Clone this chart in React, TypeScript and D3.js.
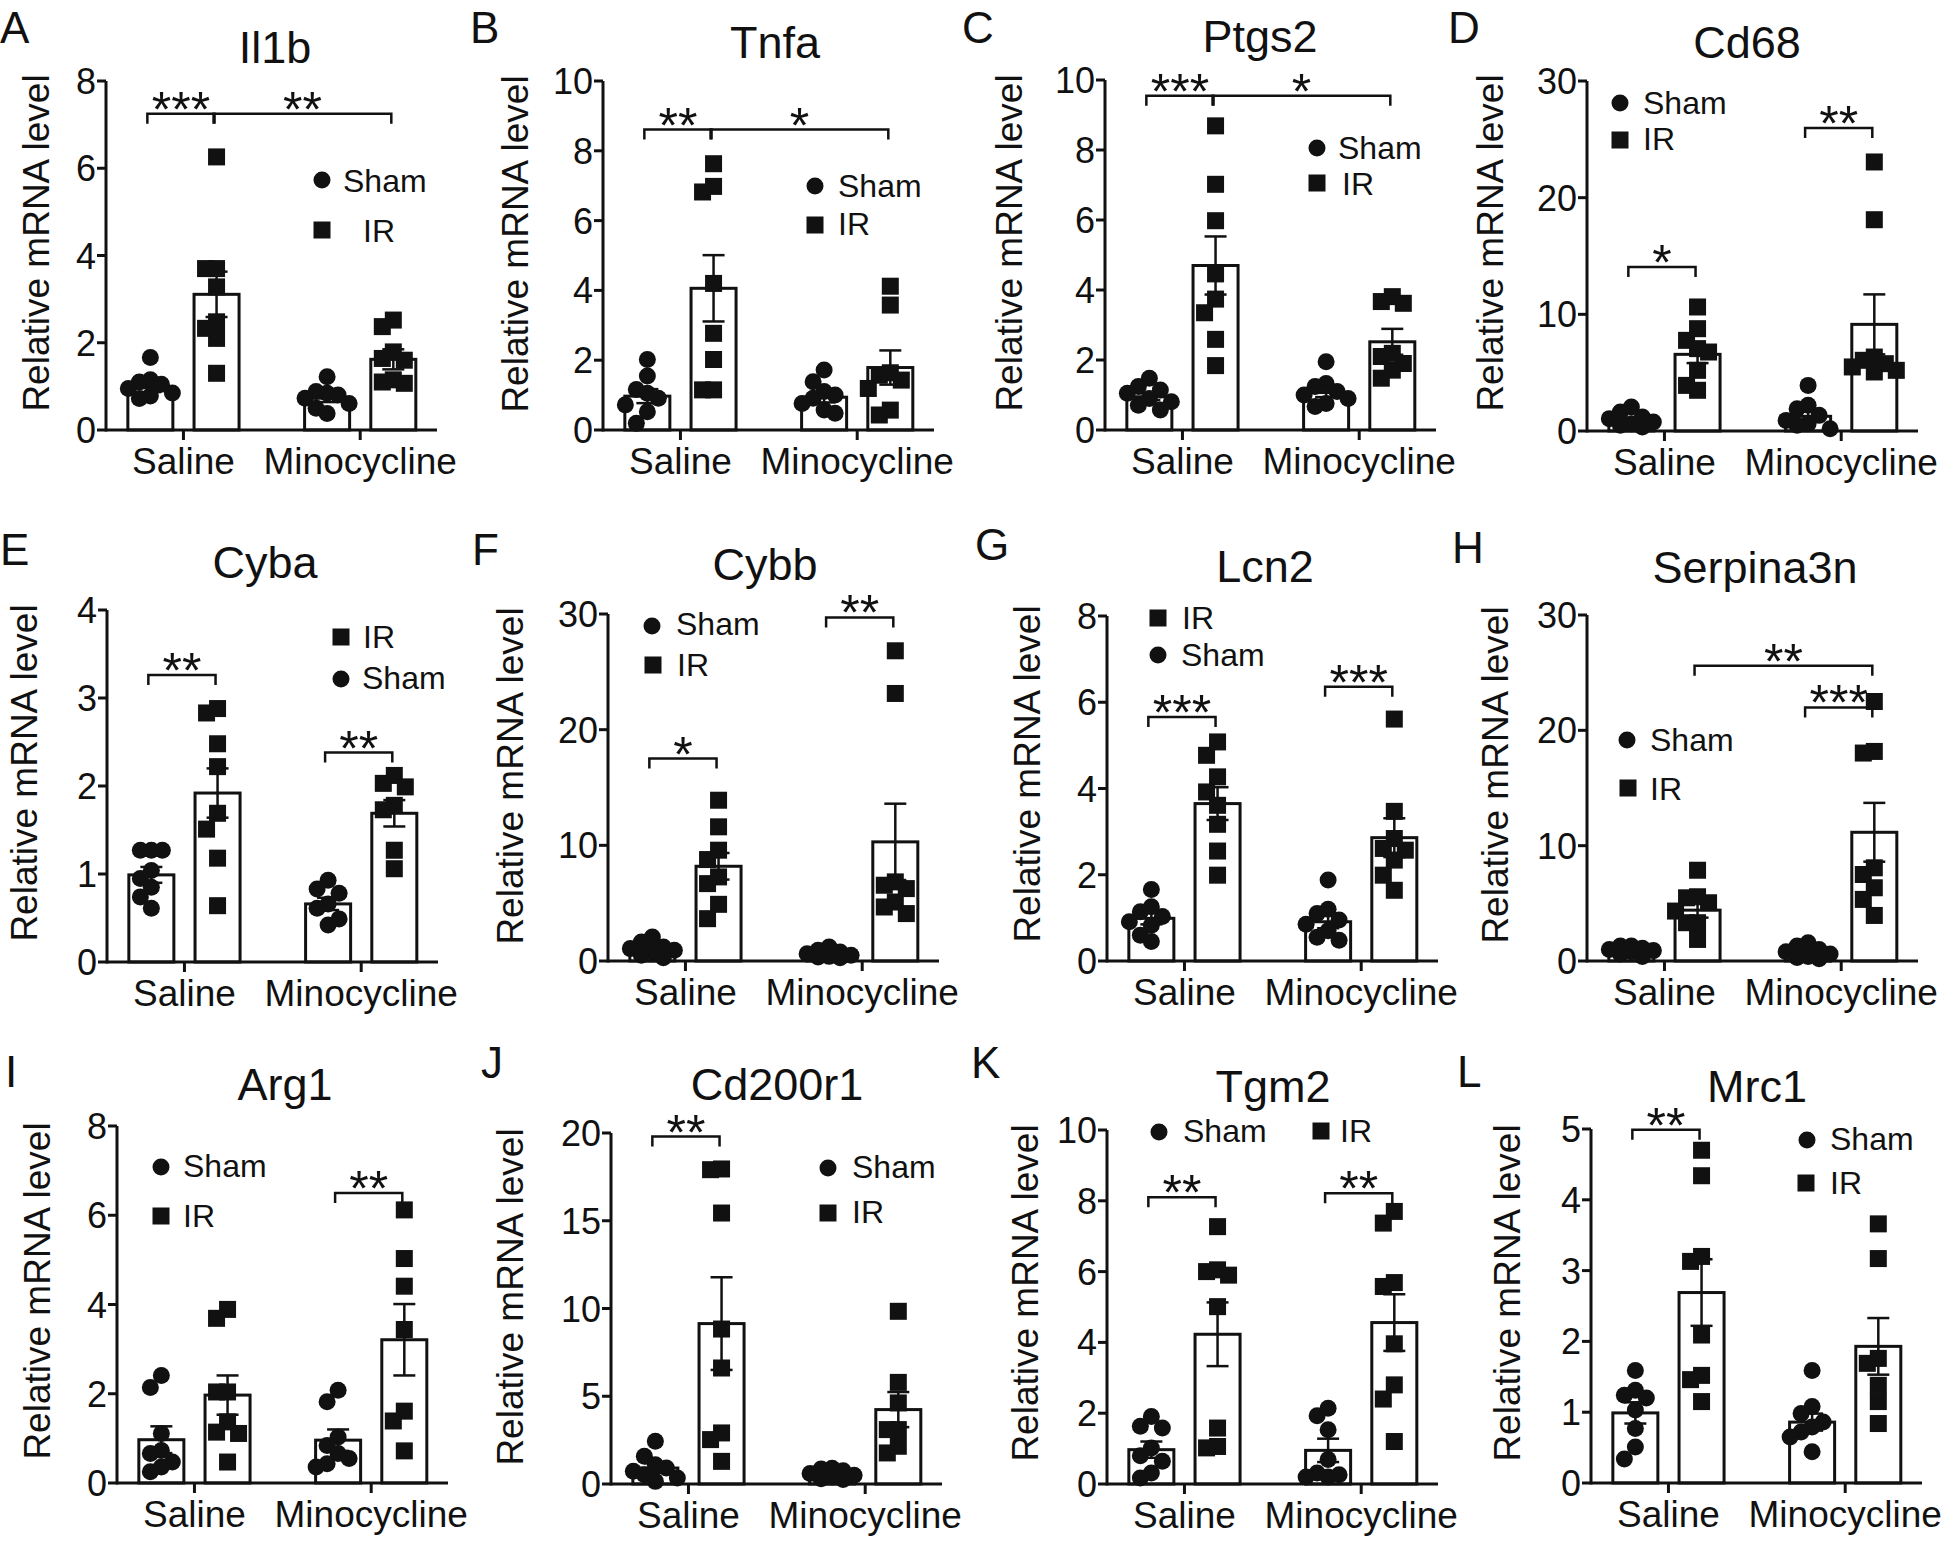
import React from 'react';
import * as d3 from 'd3';

const FONT = '"Liberation Sans", Arial, Helvetica, sans-serif';
const INK = '#111';

const groupLabels = ['Saline', 'Minocycline'];
const seriesLabels = ['Sham', 'IR'];
const yAxisLabel = 'Relative mRNA level';

// Bar order in every panel: Sham/Saline, IR/Saline, Sham/Minocycline, IR/Minocycline
const il1bPoints = [
  [1.66, 1.15, 1.1, 1.05, 0.95, 0.85, 0.78, 0.72],
  [6.26, 3.7, 3.7, 3.28, 2.48, 2.33, 2.1, 1.3],
  [1.22, 0.88, 0.84, 0.8, 0.73, 0.61, 0.5, 0.38],
  [2.52, 2.37, 1.79, 1.64, 1.6, 1.15, 1.1, 1.07],
];
const il1bMean = [0.97, 3.11, 0.73, 1.62];
const il1bSem = [0.1, 0.52, 0.09, 0.23];
const il1bSig = [
  { a: 0, b: 1, y: 7.25, label: '***' },
  { a: 1, b: 3, y: 7.25, label: '**' },
];

const tnfaPoints = [
  [2.02, 1.55, 1.16, 1.05, 0.91, 0.72, 0.52, 0.19],
  [7.63, 6.98, 6.82, 4.2, 2.77, 2.02, 1.15, 1.15],
  [1.72, 1.38, 1.1, 1.0, 0.91, 0.76, 0.57, 0.48],
  [4.12, 3.58, 1.64, 1.57, 1.43, 1.19, 0.57, 0.43],
];
const tnfaMean = [0.97, 4.06, 0.94, 1.79];
const tnfaSem = [0.2, 0.95, 0.15, 0.49];
const tnfaSig = [
  { a: 0, b: 1, y: 8.61, label: '**' },
  { a: 1, b: 3, y: 8.61, label: '*' },
];

const ptgs2Points = [
  [1.48, 1.24, 1.14, 1.05, 0.9, 0.81, 0.71, 0.57],
  [8.69, 7.02, 5.98, 4.46, 3.74, 3.35, 2.59, 1.84],
  [1.95, 1.33, 1.24, 1.1, 1.0, 0.9, 0.76, 0.67],
  [3.81, 3.67, 3.62, 2.19, 2.1, 1.9, 1.71, 1.48],
];
const ptgs2Mean = [0.95, 4.7, 1.07, 2.52];
const ptgs2Sem = [0.1, 0.83, 0.13, 0.37];
const ptgs2Sig = [
  { a: 0, b: 1, y: 9.55, label: '***' },
  { a: 1, b: 3, y: 9.55, label: '*' },
];

const cd68Points = [
  [2.06, 1.63, 1.2, 1.06, 0.77, 0.63, 0.49, 0.34],
  [10.63, 8.77, 7.77, 7.06, 6.77, 5.2, 3.91, 3.49],
  [3.91, 2.2, 1.91, 1.34, 0.91, 0.63, 0.49, 0.2],
  [23.06, 18.11, 6.34, 6.06, 5.77, 5.49, 5.2, 5.06],
];
const cd68Mean = [0.85, 6.57, 1.26, 9.14];
const cd68Sem = [0.2, 0.75, 0.4, 2.57];
const cd68Sig = [
  { a: 0, b: 1, y: 14.06, label: '*' },
  { a: 2, b: 3, y: 25.97, label: '**' },
];

const cybaPoints = [
  [1.27, 1.27, 1.27, 1.04, 0.95, 0.85, 0.74, 0.61],
  [2.88, 2.83, 2.48, 2.22, 1.69, 1.51, 1.18, 0.64],
  [0.93, 0.83, 0.78, 0.66, 0.61, 0.49, 0.42],
  [2.12, 2.03, 1.99, 1.78, 1.73, 1.27, 1.06],
];
const cybaMean = [0.99, 1.92, 0.66, 1.69];
const cybaSem = [0.09, 0.28, 0.07, 0.15];
const cybaSig = [
  { a: 0, b: 1, y: 3.26, label: '**' },
  { a: 2, b: 3, y: 2.38, label: '**' },
];

const cybbPoints = [
  [2.08, 1.64, 1.21, 1.07, 0.92, 0.78, 0.49, 0.29],
  [13.9, 11.6, 9.58, 8.77, 7.27, 6.69, 4.9, 3.66],
  [1.21, 0.92, 0.78, 0.63, 0.49, 0.4, 0.35, 0.29],
  [26.82, 23.13, 6.84, 6.55, 6.26, 5.1, 4.67, 4.1],
];
const cybbMean = [0.92, 8.19, 0.58, 10.3];
const cybbSem = [0.22, 1.15, 0.12, 3.3];
const cybbSig = [
  { a: 0, b: 1, y: 17.5, label: '*' },
  { a: 2, b: 3, y: 29.7, label: '**' },
];

const lcn2Points = [
  [1.66, 1.26, 1.14, 1.03, 0.91, 0.83, 0.6, 0.45],
  [5.08, 4.77, 4.27, 3.92, 3.61, 3.17, 2.55, 1.99],
  [1.88, 1.2, 1.1, 0.95, 0.85, 0.7, 0.55, 0.48],
  [5.61, 3.47, 2.84, 2.61, 2.57, 2.34, 1.99, 1.64],
];
const lcn2Mean = [0.99, 3.65, 0.91, 2.86];
const lcn2Sem = [0.14, 0.38, 0.15, 0.45];
const lcn2Sig = [
  { a: 0, b: 1, y: 5.66, label: '***' },
  { a: 2, b: 3, y: 6.36, label: '***' },
];

const serpina3nPoints = [
  [1.3, 1.3, 1.1, 1.0, 0.9, 0.8, 0.6, 0.4],
  [7.87, 5.57, 5.48, 5.05, 4.33, 3.32, 3.32, 1.87],
  [1.59, 1.3, 1.0, 0.8, 0.6, 0.4, 0.3, 0.2],
  [22.5, 18.17, 18.03, 8.08, 7.5, 6.35, 5.34, 3.95],
];
const serpina3nMean = [0.87, 4.41, 0.72, 11.16];
const serpina3nSem = [0.12, 0.65, 0.17, 2.55];
const serpina3nSig = [
  { a: 1, b: 3, y: 25.6, label: '**' },
  { a: 2, b: 3, y: 21.98, label: '***' },
];

const arg1Points = [
  [2.41, 2.14, 1.11, 0.73, 0.66, 0.47, 0.36, 0.25],
  [3.89, 3.69, 2.04, 2.04, 1.37, 1.14, 1.11, 0.47],
  [2.08, 1.82, 1.03, 0.84, 0.66, 0.55, 0.43, 0.36],
  [6.12, 5.03, 4.41, 3.44, 1.61, 1.39, 0.72],
];
const arg1Mean = [0.97, 1.97, 0.96, 3.21];
const arg1Sem = [0.3, 0.44, 0.24, 0.8];
const arg1Sig = [{ a: 2, b: 3, y: 6.5, label: '**' }];

const cd200r1Points = [
  [2.43, 1.58, 1.1, 0.91, 0.72, 0.53, 0.34, 0.15],
  [17.95, 17.91, 15.44, 8.83, 6.61, 2.91, 2.53, 1.29],
  [0.9, 0.85, 0.75, 0.6, 0.5, 0.4, 0.3, 0.25],
  [9.84, 5.79, 4.62, 3.1, 3.1, 2.15, 1.77],
];
const cd200r1Mean = [0.91, 9.14, 0.57, 4.24];
const cd200r1Sem = [0.27, 2.64, 0.09, 1.0];
const cd200r1Sig = [{ a: 0, b: 1, y: 19.8, label: '**' }];

const tgm2Points = [
  [1.91, 1.63, 1.58, 1.02, 0.8, 0.64, 0.31, 0.17],
  [7.27, 6.05, 6.0, 5.9, 5.01, 1.58, 1.06, 1.02],
  [2.14, 1.93, 1.53, 0.69, 0.31, 0.26, 0.2, 0.2],
  [7.7, 7.37, 5.69, 5.58, 3.96, 2.8, 2.4, 1.2],
];
const tgm2Mean = [0.97, 4.23, 0.95, 4.56];
const tgm2Sem = [0.23, 0.9, 0.33, 0.8];
const tgm2Sig = [
  { a: 0, b: 1, y: 8.1, label: '**' },
  { a: 2, b: 3, y: 8.21, label: '**' },
];

const mrc1Points = [
  [1.59, 1.31, 1.24, 1.2, 1.03, 0.77, 0.51, 0.34],
  [4.7, 4.34, 3.2, 3.13, 2.09, 1.52, 1.46, 1.15],
  [1.59, 1.08, 0.98, 0.86, 0.79, 0.72, 0.65, 0.44],
  [3.66, 3.17, 1.76, 1.69, 1.38, 1.15, 0.84],
];
const mrc1Mean = [0.99, 2.69, 0.86, 1.93];
const mrc1Sem = [0.15, 0.47, 0.12, 0.4];
const mrc1Sig = [{ a: 0, b: 1, y: 4.99, label: '**' }];

// ---------- layout (pixels) ----------
const AXIS_W = 331;
const GROUP_POS = [1.17, 3.84]; // x-domain units (domain 0..5)
const BAR_W = 0.68;

type Leg = { s: number; mx: number; my: number; tx: number; ty: number };
type PanelCfg = {
  letter: string; gene: string;
  points: number[][]; mean: number[]; sem: number[]; sig: { a: number; b: number; y: number; label: string }[];
  yMax: number; yStep: number;
  ax: number; yTop: number; y0: number;
  letterPos: [number, number]; titlePos: [number, number]; ylabPos: [number, number];
  legend: Leg[];
};

const panels: PanelCfg[] = [
  { letter: 'A', gene: 'Il1b', points: il1bPoints, mean: il1bMean, sem: il1bSem, sig: il1bSig, yMax: 8, yStep: 2,
    ax: 106, yTop: 81, y0: 430, letterPos: [0, 43], titlePos: [275, 63], ylabPos: [49, 243],
    legend: [{ s: 0, mx: 322, my: 180, tx: 343, ty: 192 }, { s: 1, mx: 322, my: 230, tx: 363, ty: 242 }] },
  { letter: 'B', gene: 'Tnfa', points: tnfaPoints, mean: tnfaMean, sem: tnfaSem, sig: tnfaSig, yMax: 10, yStep: 2,
    ax: 603, yTop: 81, y0: 430, letterPos: [470, 43], titlePos: [775, 58], ylabPos: [528, 244],
    legend: [{ s: 0, mx: 815, my: 186, tx: 838, ty: 197 }, { s: 1, mx: 815, my: 225, tx: 838, ty: 235 }] },
  { letter: 'C', gene: 'Ptgs2', points: ptgs2Points, mean: ptgs2Mean, sem: ptgs2Sem, sig: ptgs2Sig, yMax: 10, yStep: 2,
    ax: 1105, yTop: 80, y0: 430, letterPos: [962, 43], titlePos: [1260, 52], ylabPos: [1022, 243],
    legend: [{ s: 0, mx: 1317, my: 148, tx: 1338, ty: 159 }, { s: 1, mx: 1317, my: 183, tx: 1342, ty: 195 }] },
  { letter: 'D', gene: 'Cd68', points: cd68Points, mean: cd68Mean, sem: cd68Sem, sig: cd68Sig, yMax: 30, yStep: 10,
    ax: 1587, yTop: 81, y0: 431, letterPos: [1448, 43], titlePos: [1747, 58], ylabPos: [1503, 243],
    legend: [{ s: 0, mx: 1620, my: 103, tx: 1643, ty: 114 }, { s: 1, mx: 1620, my: 140, tx: 1643, ty: 150 }] },
  { letter: 'E', gene: 'Cyba', points: cybaPoints, mean: cybaMean, sem: cybaSem, sig: cybaSig, yMax: 4, yStep: 1,
    ax: 107, yTop: 610, y0: 962, letterPos: [0, 565], titlePos: [265, 578], ylabPos: [37, 773],
    legend: [{ s: 1, mx: 341, my: 637, tx: 363, ty: 648 }, { s: 0, mx: 341, my: 679, tx: 362, ty: 689 }] },
  { letter: 'F', gene: 'Cybb', points: cybbPoints, mean: cybbMean, sem: cybbSem, sig: cybbSig, yMax: 30, yStep: 10,
    ax: 608, yTop: 614, y0: 961, letterPos: [472, 565], titlePos: [765, 580], ylabPos: [523, 776],
    legend: [{ s: 0, mx: 652, my: 626, tx: 676, ty: 635 }, { s: 1, mx: 653, my: 665, tx: 677, ty: 676 }] },
  { letter: 'G', gene: 'Lcn2', points: lcn2Points, mean: lcn2Mean, sem: lcn2Sem, sig: lcn2Sig, yMax: 8, yStep: 2,
    ax: 1107, yTop: 616, y0: 961, letterPos: [975, 560], titlePos: [1265, 582], ylabPos: [1040, 774],
    legend: [{ s: 1, mx: 1158, my: 618, tx: 1182, ty: 629 }, { s: 0, mx: 1158, my: 655, tx: 1181, ty: 666 }] },
  { letter: 'H', gene: 'Serpina3n', points: serpina3nPoints, mean: serpina3nMean, sem: serpina3nSem, sig: serpina3nSig, yMax: 30, yStep: 10,
    ax: 1587, yTop: 615, y0: 961, letterPos: [1452, 563], titlePos: [1755, 583], ylabPos: [1508, 775],
    legend: [{ s: 0, mx: 1627, my: 740, tx: 1650, ty: 751 }, { s: 1, mx: 1628, my: 788, tx: 1650, ty: 800 }] },
  { letter: 'I', gene: 'Arg1', points: arg1Points, mean: arg1Mean, sem: arg1Sem, sig: arg1Sig, yMax: 8, yStep: 2,
    ax: 117, yTop: 1126, y0: 1483, letterPos: [5, 1087], titlePos: [285, 1100], ylabPos: [50, 1291],
    legend: [{ s: 0, mx: 161, my: 1167, tx: 183, ty: 1177 }, { s: 1, mx: 161, my: 1216, tx: 183, ty: 1227 }] },
  { letter: 'J', gene: 'Cd200r1', points: cd200r1Points, mean: cd200r1Mean, sem: cd200r1Sem, sig: cd200r1Sig, yMax: 20, yStep: 5,
    ax: 611, yTop: 1133, y0: 1484, letterPos: [481, 1078], titlePos: [777, 1100], ylabPos: [523, 1297],
    legend: [{ s: 0, mx: 828, my: 1168, tx: 852, ty: 1178 }, { s: 1, mx: 828, my: 1213, tx: 852, ty: 1223 }] },
  { letter: 'K', gene: 'Tgm2', points: tgm2Points, mean: tgm2Mean, sem: tgm2Sem, sig: tgm2Sig, yMax: 10, yStep: 2,
    ax: 1107, yTop: 1130, y0: 1484, letterPos: [971, 1078], titlePos: [1273, 1102], ylabPos: [1038, 1293],
    legend: [{ s: 0, mx: 1159, my: 1132, tx: 1183, ty: 1142 }, { s: 1, mx: 1321, my: 1131, tx: 1340, ty: 1142 }] },
  { letter: 'L', gene: 'Mrc1', points: mrc1Points, mean: mrc1Mean, sem: mrc1Sem, sig: mrc1Sig, yMax: 5, yStep: 1,
    ax: 1591, yTop: 1129, y0: 1483, letterPos: [1457, 1087], titlePos: [1757, 1102], ylabPos: [1520, 1293],
    legend: [{ s: 0, mx: 1807, my: 1140, tx: 1830, ty: 1150 }, { s: 1, mx: 1806, my: 1183, tx: 1830, ty: 1194 }] },
];

const R = 8.5; // circle radius
const SQ = 17; // square side

// GraphPad-like scatter: spread overlapping points sideways, at most two slots each way
function swarm(vals: number[], py: (v: number) => number, step: number, minDy: number): number[] {
  const order = vals.map((_, i) => i).sort((a, b) => vals[b] - vals[a]);
  const offs = new Array(vals.length).fill(0);
  const placed: { slot: number; y: number }[] = [];
  const cands = [0, -1, 1, -2, 2];
  for (const i of order) {
    const yy = py(vals[i]);
    let best = 0;
    let bestGap = -1;
    for (const c of cands) {
      const gaps = placed.filter((p) => Math.abs(p.slot - c) < 1).map((p) => Math.abs(p.y - yy));
      const gap = gaps.length ? Math.min(...gaps) : Infinity;
      if (gap >= minDy) { best = c; bestGap = gap; break; }
      if (gap > bestGap) { best = c; bestGap = gap; }
    }
    offs[i] = best * step;
    placed.push({ slot: best, y: yy });
  }
  return offs;
}

function Marker({ s, cx, cy }: { s: number; cx: number; cy: number }) {
  return s === 0 ? (
    <circle cx={cx} cy={cy} r={R} fill={INK} />
  ) : (
    <rect x={cx - SQ / 2} y={cy - SQ / 2} width={SQ} height={SQ} fill={INK} />
  );
}

function Panel({ p }: { p: PanelCfg }) {
  const x = d3.scaleLinear().domain([0, 5]).range([p.ax, p.ax + AXIS_W]);
  const y = d3.scaleLinear().domain([0, p.yMax]).range([p.y0, p.yTop]);
  const ticks = d3.range(0, p.yMax + p.yStep / 2, p.yStep);
  const centers = [0, 1, 2, 3].map((i) => x(GROUP_POS[i >> 1] + (i % 2 === 0 ? -0.5 : 0.5)));
  const bw = x(BAR_W) - x(0);
  const cap = 11;

  return (
    <g>
      <text x={p.letterPos[0]} y={p.letterPos[1]} fontSize={44} fill={INK}>{p.letter}</text>
      <text x={p.titlePos[0]} y={p.titlePos[1]} fontSize={45} textAnchor="middle" fill={INK}>{p.gene}</text>
      <text transform={`translate(${p.ylabPos[0]},${p.ylabPos[1]}) rotate(-90)`} textAnchor="middle" fontSize={37} fill={INK}>
        {yAxisLabel}
      </text>

      {/* bars */}
      {p.mean.map((m, i) => (
        <rect key={'b' + i} x={centers[i] - bw / 2} y={y(m)} width={bw} height={p.y0 - y(m)} fill="#fff" stroke={INK} strokeWidth={3} />
      ))}

      {/* error bars (mean ± SEM) */}
      {p.mean.map((m, i) => {
        const hi = y(m + p.sem[i]);
        const lo = y(Math.max(0, m - p.sem[i]));
        const cx = centers[i];
        return (
          <g key={'e' + i} stroke={INK} strokeWidth={2.5}>
            <line x1={cx} x2={cx} y1={hi} y2={lo} />
            <line x1={cx - cap} x2={cx + cap} y1={hi} y2={hi} />
            <line x1={cx - cap} x2={cx + cap} y1={lo} y2={lo} />
          </g>
        );
      })}

      {/* individual points */}
      {p.points.map((vals, i) => {
        const offs = swarm(vals, y, 11, 16);
        return vals.map((v, j) => <Marker key={`p${i}-${j}`} s={i % 2} cx={centers[i] + offs[j]} cy={y(v)} />);
      })}

      {/* axes */}
      <g stroke={INK} strokeWidth={3} fill="none">
        <line x1={p.ax} x2={p.ax} y1={p.yTop} y2={p.y0 + 1.5} />
        <line x1={p.ax} x2={p.ax + AXIS_W} y1={p.y0} y2={p.y0} />
        {ticks.map((t) => (
          <line key={'yt' + t} x1={p.ax - 9} x2={p.ax} y1={y(t)} y2={y(t)} />
        ))}
        {GROUP_POS.map((g, i) => (
          <line key={'xt' + i} x1={x(g)} x2={x(g)} y1={p.y0} y2={p.y0 + 10} />
        ))}
      </g>
      {ticks.map((t) => (
        <text key={'yl' + t} x={p.ax - 10} y={y(t) + 13} fontSize={36} textAnchor="end" fill={INK}>{t}</text>
      ))}
      {GROUP_POS.map((g, i) => (
        <text key={'xl' + i} x={x(g)} y={p.y0 + 44} fontSize={37} textAnchor="middle" fill={INK}>{groupLabels[i]}</text>
      ))}

      {/* significance brackets */}
      {p.sig.map((s, i) => {
        const x1 = centers[s.a] - 3;
        const x2 = centers[s.b] - 2;
        const yy = y(s.y);
        return (
          <g key={'s' + i}>
            <path d={`M${x1},${yy + 10}V${yy}H${x2}V${yy + 10}`} fill="none" stroke={INK} strokeWidth={2.5} />
            <text x={(x1 + x2) / 2} y={yy + 13} fontSize={50} textAnchor="middle" fill={INK}>{s.label}</text>
          </g>
        );
      })}

      {/* legend */}
      {p.legend.map((l, i) => (
        <g key={'l' + i}>
          <Marker s={l.s} cx={l.mx} cy={l.my} />
          <text x={l.tx} y={l.ty} fontSize={32} fill={INK}>{seriesLabels[l.s]}</text>
        </g>
      ))}
    </g>
  );
}

export default function App() {
  return (
    <svg
      width={1946}
      height={1541}
      viewBox="0 0 1946 1541"
      style={{ position: 'absolute', left: 0, top: 0, display: 'block' }}
      fontFamily={FONT}
    >
      <rect x={0} y={0} width={1946} height={1541} fill="#fff" />
      {panels.map((p) => (
        <Panel key={p.letter} p={p} />
      ))}
    </svg>
  );
}
